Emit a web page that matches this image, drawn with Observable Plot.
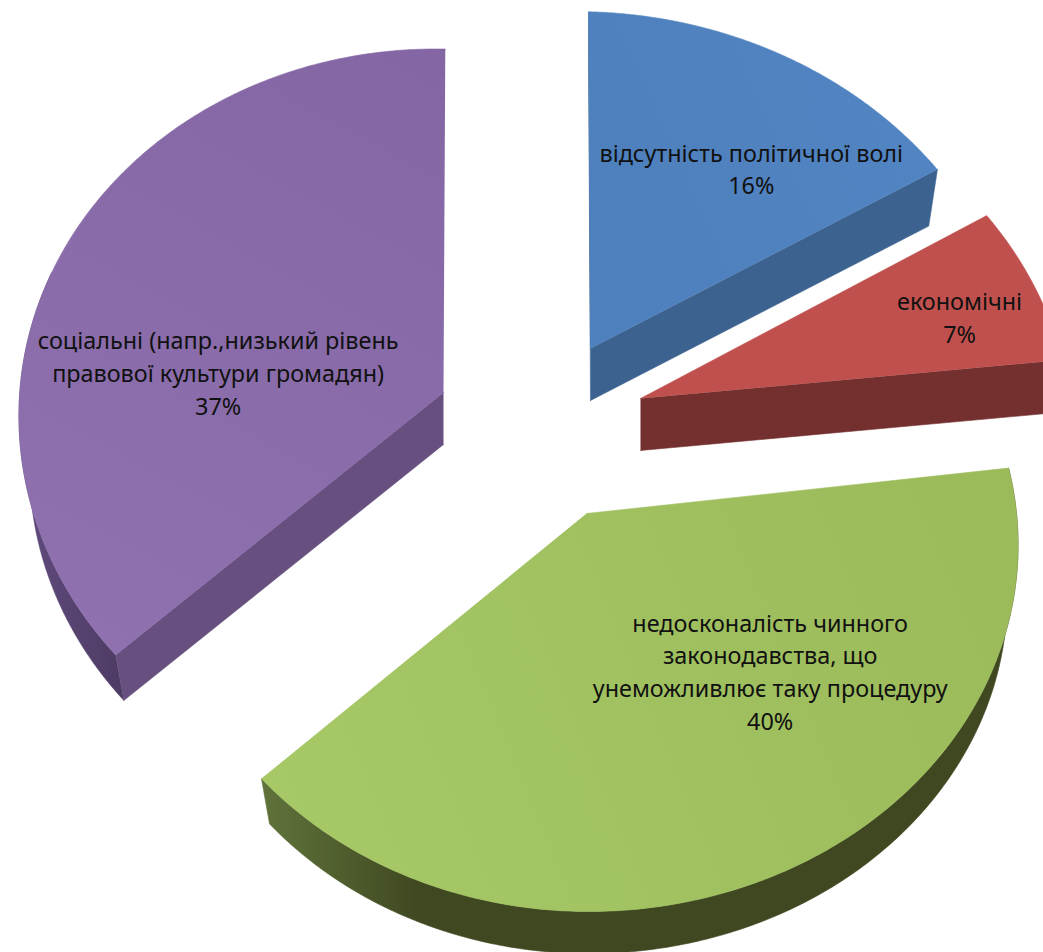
<!DOCTYPE html>
<html lang="uk">
<head>
<meta charset="utf-8">
<title>Причини</title>
<script src="https://cdn.jsdelivr.net/npm/d3@7"></script>
<script src="https://cdn.jsdelivr.net/npm/@observablehq/plot@0.6"></script>
<style>
  html, body { margin: 0; padding: 0; background: #fff; }
  svg { display: block; }
</style>
</head>
<body>
<div id="chart"></div>
<script>
// Slice names and their shares, clockwise from twelve o'clock
const names = [
  "відсутність політичної волі",
  "економічні",
  "недосконалість чинного\nзаконодавства, що\nунеможливлює таку процедуру",
  "соціальні (напр.,низький рівень\nправової культури громадян)"
];
const shares = [16, 7, 40, 37];

// Where each exploded slice's tip lands on the page
const tipX = [590, 640, 586, 443];
const tipY = [348, 398, 513, 392];

// Small per-slice corrections for the way perspective bends each exploded slice
const sliceSkew = [0.023, 0.017, 0, 0.02];
const sliceStretch = [0.99, 1, 0.995, 1.01];

// Which straight cut faces of each slice can be seen: leading edge, trailing edge
const showLeading = [true, false, false, true];
const showTrailing = [true, true, false, false];

// How much of the curved wall is in view: its length in share units from the slice's start
const curvedWallLength = [0, 0, 40, 17];

// Label placement inside the pie plane: position along the pie (in share units) and radius fraction
const labelAlong = [10.7, 20.6, 37.6, 76.4];
const labelRadius = [0.64, 0.794, 0.594, 0.53];

// Colours of the top faces and walls
const faceFrom = ["#4e80bd", "#c0504d", "#a6c866", "#8e71ae"];
const faceTo = ["#5285c3", "#c0504d", "#9bba5a", "#8366a3"];
const radialWall = ["#3c628f", "#74302e", "#435022", "#67507f"];
const outerFrom = ["#3c628f", "#74302e", "#60733a", "#5f4a7b"];
const outerTo = ["#3c628f", "#74302e", "#3f4821", "#4c3a62"];

// Perspective of the tilted pie
const width = 1043, height = 952;
const radiusRight = 430, radiusLeft = 423, radiusY = 367.6, recede = 0.081;
const centreX = 515, lean = 0.027;
const depth = 52, shrink = 0.975;

function project(slice, along, radius, corrected = true) {
  const theta = (along / 100) * 2 * Math.PI;
  const u = radius * Math.sin(theta), v = radius * Math.cos(theta);
  const w = 1 + recede * v;
  const dx = ((u < 0 ? radiusLeft : radiusRight) * u - lean * v * (tipX[slice] - centreX)) / w;
  const dy = (-radiusY * v) / w;
  return corrected ? {dx, dy: dy * sliceStretch[slice] + dx * sliceSkew[slice]} : {dx, dy};
}
const onTop = (s, a, r = 1) => {
  const p = project(s, a, r);
  return {x: tipX[s] + p.dx, y: tipY[s] + p.dy};
};
const onBottom = (s, a, r = 1) => {
  const p = project(s, a, r);
  return {x: tipX[s] + p.dx * shrink, y: tipY[s] + p.dy * shrink + depth};
};

const starts = d3.cumsum([0, ...shares]);
const arcSteps = (from, to) => d3.range(0, 241).map((i) => from + ((to - from) * i) / 240);

const fillOf = (id) => `url(#${id})`;
const shapeMark = (points, fill) => Plot.line(points, {x: "x", y: "y", fill, stroke: fill, strokeWidth: 0.6, curve: "linear"});

// Radial walls first, then the curved wall, then the top face over its own sides
const marks = [];
shares.forEach((share, s) => {
  const from = starts[s], to = starts[s + 1], arc = arcSteps(from, to);
  const edges = [...(showLeading[s] ? [from] : []), ...(showTrailing[s] ? [to] : [])];
  for (const edge of edges) {
    marks.push(shapeMark([onTop(s, 0, 0), onTop(s, edge), onBottom(s, edge), onBottom(s, 0, 0)], radialWall[s]));
  }
  if (curvedWallLength[s] > 0) {
    const wall = arcSteps(from, from + curvedWallLength[s]);
    marks.push(shapeMark([...wall.map((a) => onTop(s, a)), ...wall.slice().reverse().map((a) => onBottom(s, a))], fillOf(`outer${s}`)));
  }
  marks.push(shapeMark([onTop(s, 0, 0), ...arc.map((a) => onTop(s, a))], fillOf(`face${s}`)));
});

// Shared gradients for the faces and outer walls
const gradients = () => {
  const defs = d3.create("svg:defs");
  const add = (id, x1, y1, x2, y2, c1, c2) => {
    const g = defs.append("linearGradient").attr("id", id).attr("gradientUnits", "userSpaceOnUse")
      .attr("x1", x1).attr("y1", y1).attr("x2", x2).attr("y2", y2);
    g.append("stop").attr("offset", 0).attr("stop-color", c1);
    g.append("stop").attr("offset", 1).attr("stop-color", c2);
  };
  shares.forEach((_, s) => {
    const a = onTop(s, starts[s + 1]), b = onTop(s, starts[s]);
    add(`face${s}`, Math.min(a.x, b.x), Math.max(a.y, b.y), Math.max(a.x, b.x), Math.min(a.y, b.y), faceFrom[s], faceTo[s]);
  });
  add("outer0", 0, 0, width, 0, outerFrom[0], outerTo[0]);
  add("outer1", 0, 0, width, 0, outerFrom[1], outerTo[1]);
  add("outer2", 262, 0, 420, 0, outerFrom[2], outerTo[2]);
  add("outer3", 30, 0, 130, 0, outerFrom[3], outerTo[3]);
  return defs.node();
};

const labels = shares.map((share, s) => {
  const p = project(s, labelAlong[s], labelRadius[s], false);
  return {x: tipX[s] + p.dx, y: tipY[s] + p.dy, text: `${names[s]}\n${share}%`};
});

const chart = Plot.plot({
  width,
  height,
  margin: 0,
  x: {domain: [0, width], range: [0, width], axis: null},
  y: {domain: [0, height], range: [0, height], axis: null},
  style: {background: "#fff", overflow: "hidden"},
  marks: [
    gradients,
    ...marks,
    Plot.text(labels, {
      x: "x",
      y: "y",
      dx: -3,
      dy: -4,
      text: "text",
      fill: "#111",
      fontFamily: "'Noto Sans', sans-serif",
      fontSize: 23.4,
      lineHeight: 1.4,
      textAnchor: "middle"
    })
  ]
});
document.getElementById("chart").append(chart);
</script>
</body>
</html>
